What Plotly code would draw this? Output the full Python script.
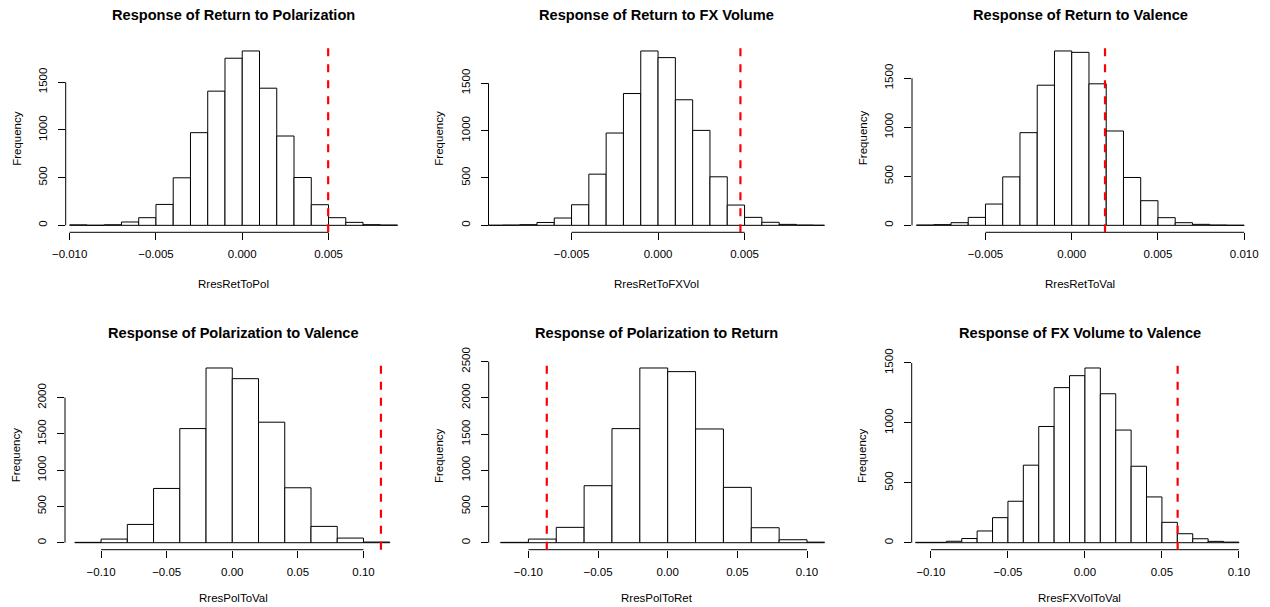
import plotly.graph_objects as go

W, H = 1270, 607
FONT = "Liberation Sans, Arial, sans-serif"

titles = ["Response of Return to Polarization", "Response of Return to FX Volume",
          "Response of Return to Valence", "Response of Polarization to Valence",
          "Response of Polarization to Return", "Response of FX Volume to Valence"]
xlabels = ["RresRetToPol", "RresRetToFXVol", "RresRetToVal",
           "RresPolToVal", "RresPolToRet", "RresFXVolToVal"]

# histogram bin left edges and counts
edges1 = [-0.010, -0.009, -0.008, -0.007, -0.006, -0.005, -0.004, -0.003, -0.002, -0.001,
          0.000, 0.001, 0.002, 0.003, 0.004, 0.005, 0.006, 0.007, 0.008]
counts1 = [5, 1, 6, 35, 80, 219, 498, 971, 1406, 1751, 1827, 1437, 936, 501, 216, 80, 31, 7, 3]

edges2 = [-0.010, -0.009, -0.008, -0.007, -0.006, -0.005, -0.004, -0.003, -0.002, -0.001,
          0.000, 0.001, 0.002, 0.003, 0.004, 0.005, 0.006, 0.007, 0.008, 0.009]
counts2 = [1, 3, 7, 30, 77, 217, 540, 974, 1391, 1840, 1770, 1325, 1002, 512, 214, 84, 32, 10, 3, 1]

edges3 = [-0.009, -0.008, -0.007, -0.006, -0.005, -0.004, -0.003, -0.002, -0.001,
          0.000, 0.001, 0.002, 0.003, 0.004, 0.005, 0.006, 0.007, 0.008, 0.009]
counts3 = [3, 7, 27, 81, 217, 494, 945, 1429, 1778, 1764, 1443, 962, 488, 251, 78, 27, 10, 3, 1]

edges4 = [-0.12, -0.10, -0.08, -0.06, -0.04, -0.02, 0.00, 0.02, 0.04, 0.06, 0.08, 0.10]
counts4 = [5, 50, 252, 748, 1573, 2408, 2261, 1661, 757, 225, 64, 9]

edges5 = [-0.12, -0.10, -0.08, -0.06, -0.04, -0.02, 0.00, 0.02, 0.04, 0.06, 0.08, 0.10]
counts5 = [5, 50, 212, 787, 1575, 2412, 2362, 1570, 764, 207, 41, 8]

edges6 = [-0.11, -0.10, -0.09, -0.08, -0.07, -0.06, -0.05, -0.04, -0.03, -0.02, -0.01,
          0.00, 0.01, 0.02, 0.03, 0.04, 0.05, 0.06, 0.07, 0.08, 0.09]
counts6 = [3, 3, 12, 35, 98, 209, 346, 647, 970, 1294, 1394, 1458, 1243, 940, 638, 382, 170, 75, 33, 11, 5]

bin_widths = [0.001, 0.001, 0.001, 0.02, 0.02, 0.01]

# observed values (red dashed lines)
observed = [0.00498, 0.00476, 0.00193, 0.1133, -0.0868, 0.0602]

# tick values / labels
xtick_vals = [[-0.010, -0.005, 0.000, 0.005], [-0.005, 0.000, 0.005], [-0.005, 0.000, 0.005, 0.010],
              [-0.10, -0.05, 0.00, 0.05, 0.10], [-0.10, -0.05, 0.00, 0.05, 0.10],
              [-0.10, -0.05, 0.00, 0.05, 0.10]]
xtick_text = [["\u22120.010", "\u22120.005", "0.000", "0.005"], ["\u22120.005", "0.000", "0.005"],
              ["\u22120.005", "0.000", "0.005", "0.010"],
              ["\u22120.10", "\u22120.05", "0.00", "0.05", "0.10"],
              ["\u22120.10", "\u22120.05", "0.00", "0.05", "0.10"],
              ["\u22120.10", "\u22120.05", "0.00", "0.05", "0.10"]]
ytick_vals = [[0, 500, 1000, 1500], [0, 500, 1000, 1500], [0, 500, 1000, 1500],
              [0, 500, 1000, 1500, 2000], [0, 500, 1000, 1500, 2000, 2500],
              [0, 500, 1000, 1500]]

# layout geometry (pixels)
panel_left = [65.7, 488.5, 912, 65, 488.7, 911.7]
x_ranges = [[-0.01023, 0.00924], [-0.0098, 0.00962], [-0.00926, 0.01022],
            [-0.1275, 0.1286], [-0.1285, 0.1127], [-0.1125, 0.1057]]
PW = 336
row_top = [44.0, 361.0]
row_bot = [232.3, 549.7]
title_y = [15, 333]
xlab_y = [283.5, 598.0]

all_edges = [edges1, edges2, edges3, edges4, edges5, edges6]
all_counts = [counts1, counts2, counts3, counts4, counts5, counts6]

fig = go.Figure()
shapes = []
annotations = []
layout = {}

for i in range(6):
    n = i + 1
    sfx = "" if n == 1 else str(n)
    row = 0 if i < 3 else 1
    edges = all_edges[i]
    counts = all_counts[i]
    bw = bin_widths[i]
    centers = [e + bw / 2 for e in edges]
    fig.add_trace(go.Bar(
        x=centers, y=counts, width=[bw] * len(edges),
        marker=dict(color="white", line=dict(color="black", width=1)),
        xaxis="x" + sfx, yaxis="y" + sfx, showlegend=False, hoverinfo="skip"))

    left = panel_left[i]
    M = max(counts)
    xdom = [left / W, (left + PW) / W]
    ydom = [1 - row_bot[row] / H, 1 - row_top[row] / H]
    tickfont = dict(family=FONT, size=11.5, color="black")
    layout["xaxis" + sfx] = dict(
        domain=xdom, range=x_ranges[i], anchor="y" + sfx,
        showgrid=False, zeroline=False, showline=False, automargin=False,
        ticks="outside", ticklen=7, tickwidth=1, tickcolor="black",
        tickvals=xtick_vals[i], ticktext=xtick_text[i], tickfont=tickfont,
        ticklabelstandoff=4, fixedrange=True)
    layout["yaxis" + sfx] = dict(
        domain=ydom, range=[-0.04 * M, 1.04 * M], anchor="x" + sfx,
        showgrid=False, zeroline=False, showline=False, automargin=False,
        ticks="outside", ticklen=7, tickwidth=1, tickcolor="black",
        tickvals=ytick_vals[i], ticktext=[str(v) for v in ytick_vals[i]],
        tickangle=-90, tickfont=tickfont, ticklabelstandoff=6, fixedrange=True)

    # R-style axis lines spanning first to last tick
    shapes.append(dict(type="line", xref="x" + sfx, yref="y" + sfx + " domain",
                       x0=xtick_vals[i][0], x1=xtick_vals[i][-1], y0=0, y1=0,
                       line=dict(color="black", width=1)))
    shapes.append(dict(type="line", xref="x" + sfx + " domain", yref="y" + sfx,
                       x0=0, x1=0, y0=ytick_vals[i][0], y1=ytick_vals[i][-1],
                       line=dict(color="black", width=1)))
    # observed value
    shapes.append(dict(type="line", xref="x" + sfx, yref="y" + sfx + " domain",
                       x0=observed[i], x1=observed[i], y0=0, y1=1,
                       line=dict(color="red", width=2.2, dash="8px,8px")))

    cx = (left + PW / 2) / W
    annotations.append(dict(text="<b>" + titles[i] + "</b>", x=cx, y=1 - title_y[row] / H,
                            xref="paper", yref="paper", showarrow=False,
                            xanchor="center", yanchor="middle",
                            font=dict(family=FONT, size=14.6, color="black")))
    annotations.append(dict(text=xlabels[i], x=cx, y=1 - xlab_y[row] / H,
                            xref="paper", yref="paper", showarrow=False,
                            xanchor="center", yanchor="middle",
                            font=dict(family=FONT, size=11.5, color="black")))
    annotations.append(dict(text="Frequency", x=(left - 49) / W,
                            y=1 - (row_top[row] + row_bot[row]) / 2 / H,
                            xref="paper", yref="paper", showarrow=False, textangle=-90,
                            xanchor="center", yanchor="middle",
                            font=dict(family=FONT, size=11.5, color="black")))

fig.update_layout(
    width=W, height=H, margin=dict(l=0, r=0, t=0, b=0, autoexpand=False),
    paper_bgcolor="white", plot_bgcolor="white",
    shapes=shapes, annotations=annotations, showlegend=False,
    **layout)

fig.write_html("out.html", config={"displayModeBar": False})
